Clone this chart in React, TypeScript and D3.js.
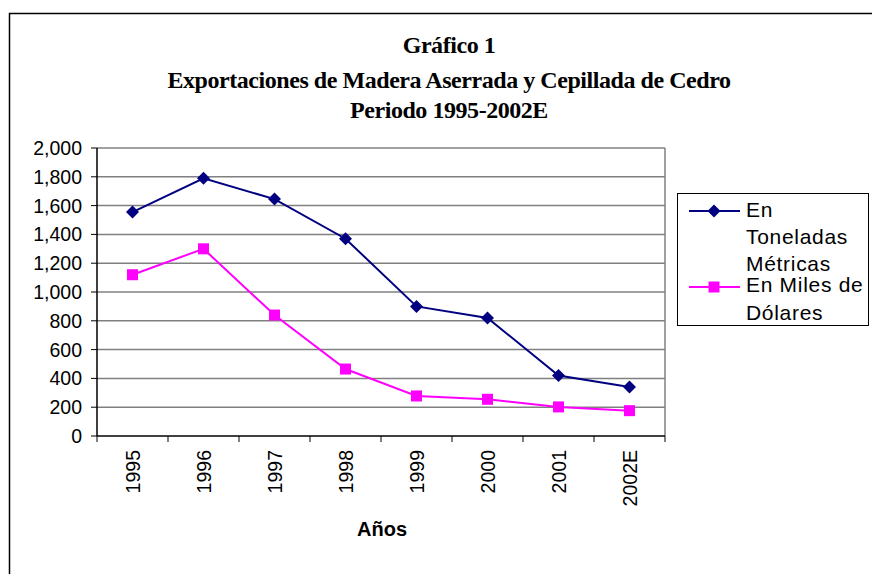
import React from "react";
import * as d3 from "d3";

const categories = ["1995", "1996", "1997", "1998", "1999", "2000", "2001", "2002E"];
const toneladas = [1555, 1790, 1645, 1370, 900, 820, 420, 340];
const milesDolares = [1120, 1300, 840, 465, 278, 255, 202, 176];
const yTicks = [0, 200, 400, 600, 800, 1000, 1200, 1400, 1600, 1800, 2000];
const titleLines = ["Gráfico 1", "Exportaciones de Madera Aserrada y Cepillada de Cedro", "Periodo 1995-2002E"];
const legendLines = ["En", "Toneladas", "Métricas", "En Miles de", "Dólares"];

const W = 872, H = 574;
const plot = { left: 97, right: 665, top: 148, bottom: 436 };
const titleBaselines = [53, 88, 118];
const legendBaselines = [216.7, 244, 271, 292, 320];

export default function App() {
  const x = d3.scaleBand<string>().domain(categories).range([plot.left, plot.right]);
  const y = d3.scaleLinear().domain([0, 2000]).range([plot.bottom, plot.top]);
  const cx = (c: string) => (x(c) as number) + x.bandwidth() / 2;
  const line = d3.line<number>().x((_, i) => cx(categories[i])).y((d) => y(d));
  const diamond = (px: number, py: number, r: number) =>
    `M${px},${py - r}L${px + r},${py}L${px},${py + r}L${px - r},${py}Z`;
  const sans = "'Liberation Sans', Arial, sans-serif";
  const serif = "'Liberation Serif', 'Times New Roman', serif";

  return (
    <svg width={W} height={H} style={{ position: "absolute", left: 0, top: 0, background: "#fff" }}>
      <rect x={9.5} y={13.5} width={880} height={600} fill="#fff" stroke="#000" strokeWidth={1.5} />
      {/* title */}
      {titleLines.map((t, i) => (
        <text key={i} x={449} y={titleBaselines[i]} textAnchor="middle" fontFamily={serif} fontWeight="bold" fontSize={24} letterSpacing={-0.45} fill="#000">
          {t}
        </text>
      ))}
      {/* gridlines */}
      {yTicks.filter((t) => t > 0).map((t) => (
        <line key={t} x1={plot.left} x2={plot.right} y1={y(t)} y2={y(t)} stroke="#808080" strokeWidth={1.5} />
      ))}
      <line x1={plot.right} x2={plot.right} y1={plot.top} y2={plot.bottom} stroke="#808080" strokeWidth={1.5} />
      {/* y axis */}
      <line x1={plot.left} x2={plot.left} y1={plot.top} y2={plot.bottom} stroke="#000" strokeWidth={1.5} />
      {yTicks.map((t) => (
        <g key={t}>
          <line x1={plot.left - 6} x2={plot.left} y1={y(t)} y2={y(t)} stroke="#000" strokeWidth={1} />
          <text x={82} y={y(t) + 7} textAnchor="end" fontFamily={sans} fontSize={19.5} fill="#000">
            {d3.format(",")(t)}
          </text>
        </g>
      ))}
      {/* x axis */}
      <line x1={plot.left} x2={plot.right} y1={plot.bottom} y2={plot.bottom} stroke="#000" strokeWidth={1.5} />
      {categories.concat(["__end"]).map((c, i) => {
        const px = i < categories.length ? (x(c) as number) : plot.right;
        return <line key={c} x1={px} x2={px} y1={plot.bottom} y2={plot.bottom + 6} stroke="#000" strokeWidth={1} />;
      })}
      {categories.map((c) => (
        <text key={c} transform={`translate(${cx(c) + 7},${plot.bottom + 14}) rotate(-90)`} textAnchor="end" fontFamily={sans} fontSize={19.5} fill="#000">
          {c}
        </text>
      ))}
      <text x={382} y={536} textAnchor="middle" fontFamily={sans} fontWeight="bold" fontSize={20} fill="#000">
        Años
      </text>
      {/* series */}
      <path d={line(milesDolares) || ""} fill="none" stroke="#FF00FF" strokeWidth={2} />
      <path d={line(toneladas) || ""} fill="none" stroke="#000080" strokeWidth={2} />
      {milesDolares.map((v, i) => (
        <rect key={i} x={cx(categories[i]) - 5.5} y={y(v) - 5.5} width={11} height={11} fill="#FF00FF" />
      ))}
      {toneladas.map((v, i) => (
        <path key={i} d={diamond(cx(categories[i]), y(v), 6.5)} fill="#000080" />
      ))}
      {/* legend */}
      <rect x={677.5} y={193.5} width={191} height={132} fill="#fff" stroke="#000" strokeWidth={1} />
      <line x1={689} x2={740} y1={211} y2={211} stroke="#000080" strokeWidth={2} />
      <path d={diamond(714, 211, 6.5)} fill="#000080" />
      <line x1={689} x2={740} y1={287} y2={287} stroke="#FF00FF" strokeWidth={2} />
      <rect x={708.5} y={281.5} width={11} height={11} fill="#FF00FF" />
      {legendLines.map((t, i) => (
        <text key={t} x={746} y={legendBaselines[i]} fontFamily={sans} fontSize={21} letterSpacing={0.7} fill="#000">
          {t}
        </text>
      ))}
    </svg>
  );
}
